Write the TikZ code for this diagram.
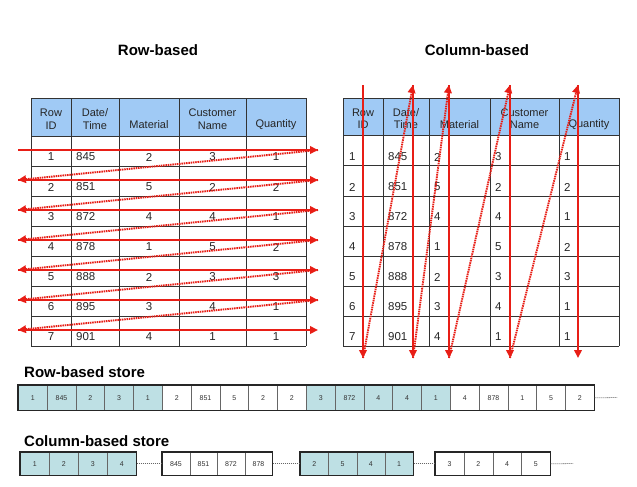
\documentclass[tikz,border=0pt]{standalone}
\usepackage{fontspec}
\setmainfont{Liberation Sans}
\usetikzlibrary{arrows.meta}
\definecolor{hdrblue}{RGB}{160,202,245}
\definecolor{storeteal}{RGB}{190,224,228}
\definecolor{arrred}{RGB}{232,30,22}
\begin{document}
\begin{tikzpicture}[x=1pt,y=-1pt,
  tline/.style={draw=black!80, line width=1pt},
  hdr/.style={font=\fontsize{11}{12.5}\selectfont, align=center, inner sep=0pt, text=black!85},
  cell/.style={font=\fontsize{11.5}{13}\selectfont, inner sep=0pt, text=black!85},
  title/.style={font=\bfseries\fontsize{15}{17}\selectfont, inner sep=0pt},
  solidarr/.style={draw=arrred, line width=2.6pt, -{Triangle[length=8pt,width=7.5pt]}},
  dotarr/.style={draw=arrred, line width=1.9pt, dash pattern=on 1.5pt off 0.8pt, -{Triangle[length=8pt,width=7.5pt]}},
  sbox/.style={draw=black!60, line width=0.6pt, minimum height=25pt, inner sep=0pt, anchor=north west, font=\fontsize{7}{8}\selectfont, text=black!80},
  cbox/.style={sbox, minimum height=23pt},
  link/.style={draw=black!60, line width=0.8pt, dash pattern=on 1pt off 1pt}
]
\useasboundingbox (0,0) rectangle (637,487);
\fill[white] (0,0) rectangle (637,487);

% titles
\node[title, anchor=base] (tRow) at (158,56) {Row-based};
\node[title, anchor=base] (tCol) at (477,56) {Column-based};

% ---------- left table ----------
\fill[hdrblue] (31,98) rectangle (306,136);
\foreach \x in {31,71,119,179,246,306} \draw[tline] (\x,98) -- (\x,346);
\foreach \y in {98,136,166,...,346} \draw[tline] (31,\y) -- (306,\y);
\node[hdr] (lh1) at (51,119) {Row\\ID};
\node[hdr] (lh2) at (95,119) {Date/\\Time};
\node[hdr] (lh3) at (149,125) {Material};
\node[hdr] (lh4) at (212.5,119) {Customer\\Name};
\node[hdr] (lh5) at (276,125) {Quantity};
\foreach \a/\b/\c/\d/\e [count=\k] in {1/845/2/3/1, 2/851/5/2/2, 3/872/4/4/1, 4/878/1/5/2, 5/888/2/3/3, 6/895/3/4/1, 7/901/4/1/1}{
  \pgfmathsetmacro{\yy}{136+30*(\k-1)+21}
  \node[cell] (la\k) at (51,\yy) {\a};
  \node[cell, anchor=west] (lb\k) at (76,\yy) {\b};
  \node[cell] (lc\k) at (149,\yy) {\c};
  \node[cell] (ld\k) at (212.5,\yy) {\d};
  \node[cell] (le\k) at (276,\yy) {\e};
}

% ---------- right table ----------
\fill[hdrblue] (343,98) rectangle (619,135);
\foreach \x in {343,383,429,490,559,619} \draw[tline] (\x,98) -- (\x,346);
\foreach \y in {98,135,165,196,226,256,286,316,346} \draw[tline] (343,\y) -- (619,\y);
\node[hdr] (rh1) at (363,118.5) {Row\\ID};
\node[hdr] (rh2) at (406,118.5) {Date/\\Time};
\node[hdr] (rh3) at (459.5,125) {Material};
\node[hdr] (rh4) at (524.5,118.5) {Customer\\Name};
\node[hdr] (rh5) at (589,125) {Quantity};
\foreach \a/\b/\c/\d/\e [count=\k] in {1/845/2/3/1, 2/851/5/2/2, 3/872/4/4/1, 4/878/1/5/2, 5/888/2/3/3, 6/895/3/4/1, 7/901/4/1/1}{
  \pgfmathsetmacro{\yy}{135+30*(\k-1)+22}
  \node[cell, anchor=west] (ra\k) at (349,\yy) {\a};
  \node[cell, anchor=west] (rb\k) at (388,\yy) {\b};
  \node[cell, anchor=west] (rc\k) at (434,\yy) {\c};
  \node[cell, anchor=west] (rd\k) at (495,\yy) {\d};
  \node[cell, anchor=west] (re\k) at (564,\yy) {\e};
}

% ---------- left arrows (row scan) ----------
\foreach \k in {1,...,7}{
  \pgfmathsetmacro{\yy}{150+30*(\k-1)}
  \coordinate (ls\k) at (18,\yy);
  \coordinate (le\k x) at (318,\yy);
}
\foreach \k in {1,...,7} \draw[solidarr] (ls\k) -- (le\k x);
\foreach \k [evaluate=\k as \n using int(\k+1)] in {1,...,6} \draw[dotarr] (le\k x) -- (ls\n);

% ---------- right arrows (column scan) ----------
\foreach \x [count=\k] in {363,413,449,510,578}{
  \coordinate (ct\k) at (\x,85);
  \coordinate (cb\k) at (\x,358);
}
\foreach \k in {1,...,5} \draw[solidarr] (ct\k) -- (cb\k);
\foreach \k [evaluate=\k as \n using int(\k+1)] in {1,...,4} \draw[dotarr] (cb\k) -- (ct\n);

% ---------- row-based store ----------
\node[title, anchor=base west] (rsl) at (24,377) {Row-based store};
\foreach \v [count=\i from 0] in {1,845,2,3,1,2,851,5,2,2,3,872,4,4,1,4,878,1,5,2}{
  \pgfmathtruncatemacro{\grp}{mod(int(\i/5),2)}
  \ifnum\grp=0 \def\fc{storeteal}\else\def\fc{white}\fi
  \node[sbox, fill=\fc, minimum width=28.8pt] (s\i) at ({18+28.8*\i},385) {\v};
}
\draw[line width=1.4pt, draw=black!85] (s0.north west) rectangle (s19.south east);
\coordinate (rsend) at (617,397.5);
\draw[link] (s19.east) -- (rsend);

% ---------- column-based store ----------
\node[title, anchor=base west] (csl) at (24,446) {Column-based store};
\foreach \v [count=\i from 0] in {1,2,3,4}
  \node[cbox, fill=storeteal, minimum width=29pt] (ga\i) at ({20+29*\i},452) {\v};
\foreach \v [count=\i from 0] in {845,851,872,878}
  \node[cbox, fill=white, minimum width=27.5pt] (gb\i) at ({162+27.5*\i},452) {\v};
\foreach \v [count=\i from 0] in {2,5,4,1}
  \node[cbox, fill=storeteal, minimum width=28.25pt] (gc\i) at ({300+28.25*\i},452) {\v};
\foreach \v [count=\i from 0] in {3,2,4,5}
  \node[cbox, fill=white, minimum width=28.75pt] (gd\i) at ({435+28.75*\i},452) {\v};
\foreach \g in {ga,gb,gc,gd}
  \draw[line width=1.4pt, draw=black!85] (\g0.north west) rectangle (\g3.south east);
\draw[link] (ga3.east) -- (gb0.west);
\draw[link] (gb3.east) -- (gc0.west);
\draw[link] (gc3.east) -- (gd0.west);
\coordinate (csend) at (573,463.5);
\draw[link] (gd3.east) -- (csend);
\end{tikzpicture}
\end{document}
